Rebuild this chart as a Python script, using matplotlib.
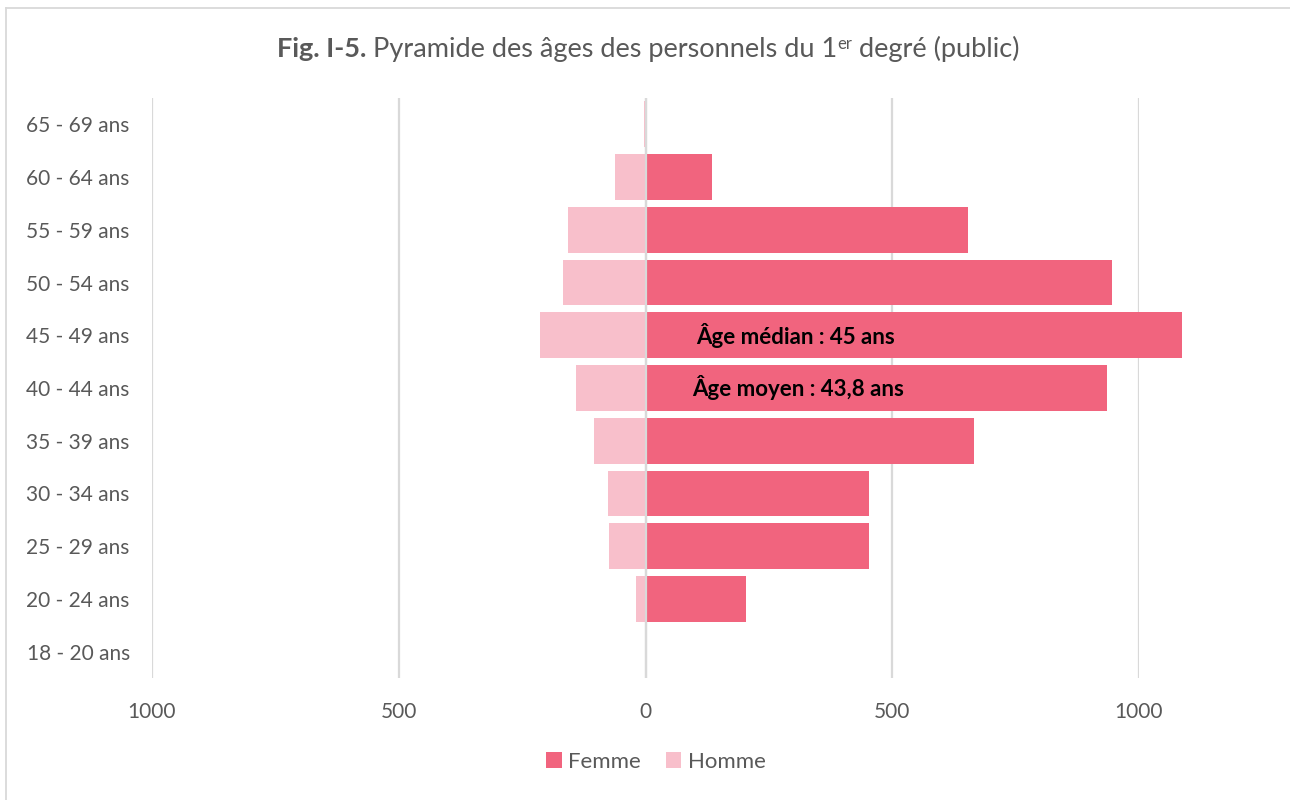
import matplotlib
matplotlib.use("Agg")
import matplotlib.pyplot as plt
from matplotlib.lines import Line2D
import numpy as np

plt.rcParams['font.family'] = ['Lato', 'DejaVu Sans']

# Data
categories = ["18 - 20 ans", "20 - 24 ans", "25 - 29 ans", "30 - 34 ans", "35 - 39 ans",
              "40 - 44 ans", "45 - 49 ans", "50 - 54 ans", "55 - 59 ans", "60 - 64 ans",
              "65 - 69 ans"]
femme = [2, 204, 453, 453, 666, 935, 1087, 945, 654, 134, 3]
homme = [1, 20, 73, 75, 105, 140, 213, 168, 158, 61, 3]
xticks = [-1000, -500, 0, 500, 1000]
notes = ["Âge médian : 45 ans", "Âge moyen : 43,8 ans"]

FEMME_COL = '#F1647E'
HOMME_COL = '#F8BFCB'
TEXT_COL = '#595959'

W, H = 1290, 800
fig = plt.figure(figsize=(W / 100, H / 100), dpi=100)

# chart frame: only top and left edges fall inside the picture
fig.lines.append(Line2D([6 / W, 6 / W], [0, 1 - 7.5 / H], transform=fig.transFigure,
                        color='#D9D9D9', lw=1.3))
fig.lines.append(Line2D([6 / W, 1], [1 - 7.5 / H, 1 - 7.5 / H], transform=fig.transFigure,
                        color='#D9D9D9', lw=1.3))

ax = fig.add_axes([152 / W, 1 - 678 / H, (1139 - 152) / W, (678 - 98) / H])
y = np.arange(len(categories))
bf = ax.barh(y, femme, height=0.87, color=FEMME_COL, label='Femme', zorder=2)
bh = ax.barh(y, [-v for v in homme], height=0.87, color=HOMME_COL, label='Homme', zorder=2)
for b in list(bf) + list(bh):
    b.set_clip_on(False)
ax.axvline(0, color='#D9D9D9', lw=1.6, zorder=3)

ax.set_xlim(-1000, 1000)
ax.set_ylim(-0.5, len(categories) - 0.5)
ax.set_xticks(xticks)
ax.set_xticklabels([str(abs(t)) for t in xticks])
ax.set_yticks(y)
ax.set_yticklabels(categories)
ax.grid(axis='x', color='#D9D9D9', lw=1.6)
ax.set_axisbelow(True)
for s in ax.spines.values():
    s.set_visible(False)
ax.tick_params(length=0, colors=TEXT_COL, labelsize=15)
ax.tick_params(axis='x', pad=17)
ax.tick_params(axis='y', pad=16)

# annotations
ax.text(103, 6, notes[0], fontsize=16, fontweight='bold', color='black', va='center', zorder=4)
ax.text(95, 5, notes[1], fontsize=16, fontweight='bold', color='black', va='center', zorder=4)

# legend
fig.legend(loc='center', bbox_to_anchor=(656 / W, 1 - 762 / H), ncol=2, frameon=False,
           handlelength=0.7, handleheight=0.7, handletextpad=0.3, columnspacing=1.1,
           fontsize=16, labelcolor=TEXT_COL)

# title with bold prefix and superscript
parts = [("Fig. I-5.", 'bold', 19.5, 0), (" Pyramide des âges des personnels du 1", 'normal', 19.5, 0),
         ("er", 'normal', 12, 8), (" degré (public)", 'normal', 19.5, 0)]
renderer = fig.canvas.get_renderer()
texts = []
for s, w, fs, dy in parts:
    t = fig.text(0, 0, s, fontweight=w, fontsize=fs, color=TEXT_COL, va='baseline')
    texts.append((t, dy))
widths = [t.get_window_extent(renderer).width for t, _ in texts]
total = sum(widths)
x0 = 648 - total / 2
base = H - 57
for (t, dy), wdt in zip(texts, widths):
    t.set_position((x0 / W, (base + dy) / H))
    x0 += wdt

fig.savefig("out.png", dpi=100)
